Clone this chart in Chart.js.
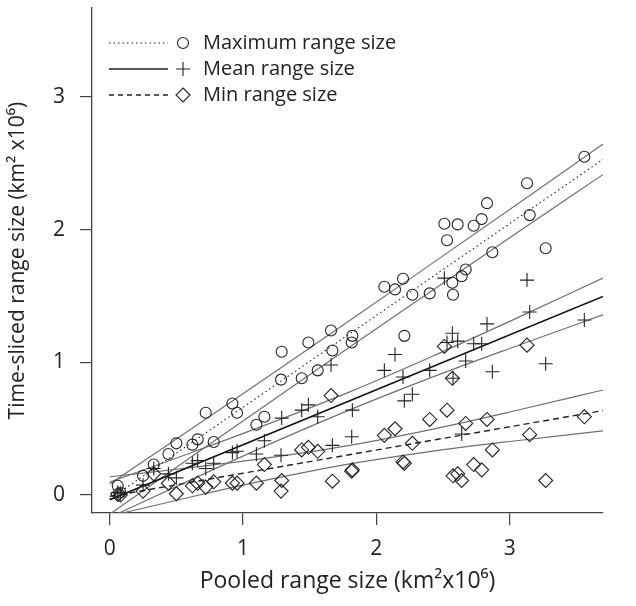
<!DOCTYPE html>
<html>
<head>
<meta charset="utf-8">
<script src="https://cdn.jsdelivr.net/npm/chart.js@4.4.0/dist/chart.umd.min.js"></script>
<style>
  html, body { margin: 0; padding: 0; background: #fff; }
  #wrap { width: 636px; height: 606px; }
</style>
</head>
<body>
<div id="wrap"><canvas id="myChart" width="636" height="606"></canvas></div>
<script>
// pooled range size of each species (km2 x10^6)
const pooled = [0.06, 0.08, 0.25, 0.33, 0.44, 0.50, 0.62, 0.66, 0.72, 0.78,
  0.92, 0.955, 1.10, 1.16, 1.285, 1.29, 1.44, 1.49, 1.56, 1.66,
  1.67, 1.815, 1.82, 2.06, 2.14, 2.20, 2.21, 2.27, 2.40, 2.51,
  2.53, 2.57, 2.575, 2.61, 2.64, 2.67, 2.73, 2.79, 2.83, 2.87,
  3.13, 3.15, 3.27, 3.56];

// time-sliced range sizes of the same species
const maxRange = [0.07, 0.02, 0.145, 0.23, 0.31, 0.39, 0.38, 0.42, 0.62, 0.40,
  0.69, 0.62, 0.53, 0.59, 0.87, 1.08, 0.88, 1.15, 0.94, 1.24,
  1.09, 1.15, 1.20, 1.57, 1.55, 1.63, 1.20, 1.51, 1.52, 2.045,
  1.92, 1.60, 1.51, 2.04, 1.65, 1.70, 2.03, 2.08, 2.20, 1.83,
  2.35, 2.11, 1.86, 2.55];
const meanRange = [0.02, 0.01, 0.075, 0.20, 0.16, 0.13, 0.24, 0.26, 0.20, 0.24,
  0.32, 0.33, 0.31, 0.41, 0.30, 0.58, 0.64, 0.68, 0.59, 0.98,
  0.375, 0.44, 0.64, 0.94, 1.06, 0.89, 0.71, 0.76, 0.94, 1.635,
  1.15, 1.22, 0.88, 1.16, 0.46, 1.01, 1.14, 1.14, 1.29, 0.93,
  1.62, 1.38, 0.99, 1.32];
const minRange = [0.005, 0.0, 0.03, 0.16, 0.09, 0.01, 0.07, 0.09, 0.06, 0.10,
  0.09, 0.09, 0.09, 0.23, 0.03, 0.11, 0.34, 0.36, 0.33, 0.75,
  0.105, 0.18, 0.19, 0.45, 0.50, 0.25, 0.24, 0.39, 0.57, 1.12,
  0.64, 0.88, 0.145, 0.16, 0.11, 0.54, 0.23, 0.19, 0.57, 0.34,
  1.13, 0.455, 0.11, 0.59];

const xTicks = [0, 1, 2, 3];
const yTicks = [0, 1, 2, 3];

// fitted lines, values at both ends
const fitX = [0, 3.7];
const maxFit = [-0.03, 2.53];
const meanFit = [-0.035, 1.497];
const minFit = [-0.01, 0.637];

// confidence bands read along the x axis
const bandX = [0, 0.6, 1.2, 1.8, 2.4, 3.0, 3.7];
const maxUpper = [0.084, 0.491, 0.902, 1.316, 1.733, 2.152, 2.645];
const maxLower = [-0.144, 0.279, 0.698, 1.116, 1.529, 1.940, 2.415];
const meanUpper = [0.098, 0.315, 0.540, 0.778, 1.037, 1.309, 1.636];
const meanLower = [-0.168, 0.111, 0.384, 0.642, 0.881, 1.105, 1.359];
const minUpper = [0.138, 0.206, 0.282, 0.375, 0.492, 0.626, 0.792];
const minLower = [-0.158, -0.016, 0.118, 0.235, 0.328, 0.404, 0.484];

const seriesNames = ["Maximum range size", "Mean range size", "Min range size"];

const ink = "#222";
const bandColor = "#707070";
const fontFamily = "'Open Sans', 'Liberation Sans', sans-serif";

const toPoints = (xs, ys) => xs.map((x, i) => ({ x: x, y: ys[i] }));

const markerSet = (label, ys, style, radius) => ({
  type: "scatter",
  label: label,
  data: toPoints(pooled, ys),
  pointStyle: style,
  pointRadius: radius,
  pointBorderColor: ink,
  pointBackgroundColor: "rgba(0,0,0,0)",
  pointBorderWidth: 1.1,
  order: 0,
});

const lineSet = (xs, ys, color, width, dash) => ({
  type: "line",
  data: toPoints(xs, ys),
  borderColor: color,
  borderWidth: width,
  borderDash: dash,
  pointRadius: 0,
  fill: false,
  cubicInterpolationMode: "monotone",
  clip: 0,
  order: 1,
});

// legend in the top left, drawn like the R one: line, marker, text
const legendRows = [
  { dash: [1.5, 3], width: 1.2, style: "circle", r: 5.5 },
  { dash: [], width: 1.5, style: "cross", r: 7 },
  { dash: [5, 4], width: 1.3, style: "diamond", r: 7 },
];

const drawMarker = (ctx, style, x, y, r) => {
  ctx.beginPath();
  if (style === "circle") {
    ctx.arc(x, y, r, 0, Math.PI * 2);
  } else if (style === "cross") {
    ctx.moveTo(x - r, y); ctx.lineTo(x + r, y);
    ctx.moveTo(x, y - r); ctx.lineTo(x, y + r);
  } else {
    ctx.moveTo(x, y - r); ctx.lineTo(x + r, y);
    ctx.lineTo(x, y + r); ctx.lineTo(x - r, y);
    ctx.closePath();
  }
  ctx.stroke();
};

const legendPlugin = {
  id: "rLegend",
  afterDraw: (chart) => {
    const ctx = chart.ctx;
    ctx.save();
    ctx.strokeStyle = ink;
    ctx.fillStyle = ink;
    ctx.font = "20px " + fontFamily;
    ctx.textBaseline = "middle";
    legendRows.forEach((row, i) => {
      const y = 43 + i * 26;
      ctx.lineWidth = row.width;
      ctx.setLineDash(row.dash);
      ctx.beginPath();
      ctx.moveTo(109, y);
      ctx.lineTo(168, y);
      ctx.stroke();
      ctx.setLineDash([]);
      ctx.lineWidth = 1.1;
      drawMarker(ctx, row.style, 183, y, row.r);
      ctx.fillText(seriesNames[i], 203, y);
    });
    ctx.restore();
  },
};

// no extra room for edge labels: the plot box is fixed
const fixBox = (size, key) => (scale) => {
  scale[key] = size;
  scale.paddingTop = 0;
  scale.paddingBottom = 0;
  scale.paddingLeft = 0;
  scale.paddingRight = 0;
};

const axisCommon = (ticks) => ({
  type: "linear",
  afterBuildTicks: (scale) => {
    scale.ticks = ticks.map((v) => ({ value: v }));
  },
  grid: {
    display: true,
    drawOnChartArea: false,
    drawTicks: true,
    tickLength: 12,
    color: "#444",
    lineWidth: 1.2,
  },
  border: { display: true, color: "#444", width: 1.3 },
  ticks: {
    color: ink,
    font: { family: fontFamily, size: 21 },
  },
});

const xAxis = axisCommon(xTicks);
xAxis.min = -0.133;
xAxis.max = 3.70;
xAxis.ticks.padding = 11;
xAxis.ticks.maxRotation = 0;
xAxis.title = {
  display: true,
  text: "Pooled range size (km\u00B2x10\u2076)",
  color: ink,
  font: { family: fontFamily, size: 23 },
  padding: { top: 0, bottom: 11 },
};
xAxis.afterFit = fixBox(93, "height");

const yAxis = axisCommon(yTicks);
yAxis.min = -0.135;
yAxis.max = 3.67;
yAxis.ticks.padding = 15;
yAxis.title = {
  display: true,
  text: "Time-sliced range size (km\u00B2 x10\u2076)",
  color: ink,
  font: { family: fontFamily, size: 21 },
  padding: { top: 5, bottom: 0 },
};
yAxis.afterFit = fixBox(92, "width");

const config = {
  type: "scatter",
  data: {
    datasets: [
      markerSet(seriesNames[0], maxRange, "circle", 5.5),
      markerSet(seriesNames[1], meanRange, "cross", 7),
      markerSet(seriesNames[2], minRange, "rectRot", 7),
      lineSet(fitX, maxFit, ink, 1.1, [1.5, 3]),
      lineSet(fitX, meanFit, "#111", 1.6, []),
      lineSet(fitX, minFit, ink, 1.4, [6, 4]),
      lineSet(bandX, maxUpper, bandColor, 1.2, []),
      lineSet(bandX, maxLower, bandColor, 1.2, []),
      lineSet(bandX, meanUpper, bandColor, 1.2, []),
      lineSet(bandX, meanLower, bandColor, 1.2, []),
      lineSet(bandX, minUpper, bandColor, 1.2, []),
      lineSet(bandX, minLower, bandColor, 1.2, []),
    ],
  },
  options: {
    responsive: false,
    animation: false,
    layout: { padding: { left: 0, right: 33, top: 5, bottom: 0 } },
    plugins: {
      legend: { display: false },
      tooltip: { enabled: false },
    },
    scales: { x: xAxis, y: yAxis },
  },
  plugins: [legendPlugin],
};

const chart = new Chart(document.getElementById("myChart").getContext("2d"), config);
</script>
</body>
</html>
